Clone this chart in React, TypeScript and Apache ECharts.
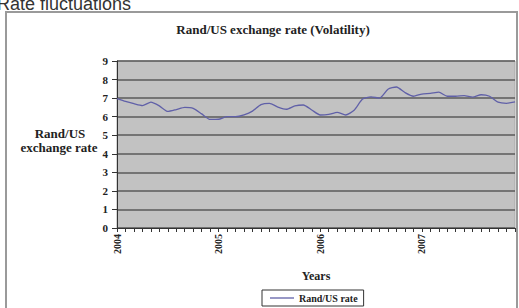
import React, { useEffect, useRef } from "react";
import * as echarts from "echarts";

const years = ["2004", "2005", "2006", "2007"];
const months = ["Jan", "Feb", "Mar", "Apr", "May", "Jun", "Jul", "Aug", "Sep", "Oct", "Nov", "Dec"];
const categories: string[] = [];
years.forEach((y) => months.forEach((m) => categories.push(`${m} ${y}`)));

const randUsRate = [
  6.97, 6.82, 6.7, 6.6, 6.78, 6.58, 6.28, 6.38, 6.5, 6.45, 6.15, 5.85,
  5.86, 6.0, 6.0, 6.1, 6.3, 6.65, 6.72, 6.52, 6.4, 6.58, 6.63, 6.36,
  6.09, 6.12, 6.23, 6.09, 6.35, 6.95, 7.07, 7.0, 7.48, 7.6, 7.3, 7.1,
  7.22, 7.25, 7.32, 7.1, 7.1, 7.13, 7.05, 7.18, 7.1, 6.78, 6.72, 6.8,
];

const yTicks = [0, 1, 2, 3, 4, 5, 6, 7, 8, 9];

const serif = "'Liberation Serif', 'DejaVu Serif', serif";

export default function App() {
  const ref = useRef<HTMLDivElement>(null);
  useEffect(() => {
    if (!ref.current) return;
    const chart = echarts.init(ref.current, null, { renderer: "svg" });
    chart.setOption({
      animation: false,
      backgroundColor: "#ffffff",
      title: {
        text: "Rand/US exchange rate (Volatility)",
        left: 268,
        top: 18,
        textAlign: "center",
        textStyle: { fontFamily: serif, fontSize: 13, fontWeight: "bold", color: "#222" },
      },
      graphic: [
        {
          type: "text",
          left: -3,
          top: -5,
          style: { text: "Rate fluctuations", fontFamily: "'Liberation Sans', Arial, sans-serif", fontSize: 18, fill: "#333" },
          z: 1,
        },
        {
          type: "rect",
          shape: { x: 6, y: 12, width: 511, height: 320 },
          style: { fill: "none", stroke: "#9a9a9a", lineWidth: 2 },
          z: 2,
        },
        {
          type: "text",
          x: 60,
          y: 133,
          style: { text: "Rand/US", fontFamily: serif, fontSize: 13, fontWeight: "bold", fill: "#222", align: "center", verticalAlign: "middle" },
        },
        {
          type: "text",
          x: 59,
          y: 147,
          style: { text: "exchange rate", fontFamily: serif, fontSize: 13, fontWeight: "bold", fill: "#222", align: "center", verticalAlign: "middle" },
        },
      ],
      grid: {
        left: 117,
        right: 4,
        top: 61,
        bottom: 80,
        show: true,
        backgroundColor: "#c2c2c2",
        borderColor: "#a8a8a8",
        borderWidth: 1,
      },
      legend: {
        data: [{ name: "Rand/US rate", icon: "rect" }],
        left: 262,
        top: 290,
        itemWidth: 24,
        itemHeight: 1.3,
        itemGap: 4,
        padding: [3, 6, 3, 8],
        borderColor: "#333",
        borderWidth: 1,
        borderRadius: 0,
        backgroundColor: "#fff",
        textStyle: { fontFamily: serif, fontSize: 10, fontWeight: "bold", color: "#222" },
      },
      xAxis: {
        type: "category",
        data: categories,
        boundaryGap: false,
        name: "Years",
        nameLocation: "middle",
        nameGap: 42,
        nameTextStyle: { fontFamily: serif, fontSize: 12, fontWeight: "bold", color: "#222" },
        axisLine: { show: true, lineStyle: { color: "#333", width: 1 } },
        axisTick: { show: true, interval: 0, length: 4, lineStyle: { color: "#333" } },
        axisLabel: {
          interval: 11,
          rotate: 90,
          margin: 6,
          fontFamily: serif,
          fontSize: 10,
          fontWeight: "bold",
          color: "#222",
          formatter: (v: string) => v.split(" ")[1],
        },
        splitLine: { show: false },
      },
      yAxis: {
        type: "value",
        min: yTicks[0],
        max: yTicks[yTicks.length - 1],
        interval: 1,
        axisLine: { show: true, lineStyle: { color: "#333", width: 1 } },
        axisTick: { show: true, length: 5, lineStyle: { color: "#333" } },
        axisLabel: { fontFamily: serif, fontSize: 11, fontWeight: "bold", color: "#222", margin: 9 },
        splitLine: { show: true, lineStyle: { color: "#5a5a5a", width: 1.5 } },
      },
      series: [
        {
          name: "Rand/US rate",
          type: "line",
          data: randUsRate,
          symbol: "none",
          smooth: 0.2,
          lineStyle: { color: "#6060a8", width: 1.3 },
          itemStyle: { color: "#6060a8" },
        },
      ],
    });
    return () => chart.dispose();
  }, []);
  return <div ref={ref} style={{ width: 519, height: 308, position: "absolute", left: 0, top: 0 }} />;
}
